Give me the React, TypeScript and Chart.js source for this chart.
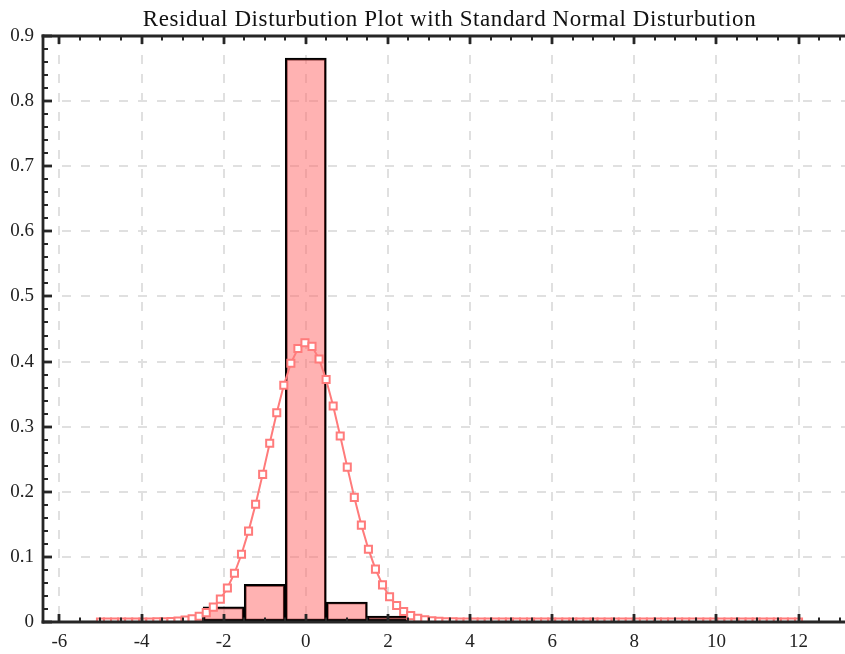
import React, { useEffect, useRef } from "react";
import { Chart, registerables } from "chart.js";

Chart.register(...registerables);

const TITLE = "Residual Disturbution Plot with Standard Normal Disturbution";

// Histogram bins (centres, width 1) and their densities
const binCenters = [-5, -4, -3, -2, -1, 0, 1, 2, 3, 4, 5, 6, 7, 8, 9, 10, 11, 12];
const binDensity = [0.0003, 0.0003, 0.0006, 0.0232, 0.0577, 0.866, 0.0307, 0.009, 0.0012, 0.0006, 0.0004, 0.0003, 0.0002, 0.0002, 0.0002, 0.0002, 0.0002, 0.0003];

// Normal curve sample positions and densities
const curveX = [
  -5.0, -4.8283, -4.6566, -4.4848, -4.3131, -4.1414, -3.9697, -3.798, -3.6263, -3.4545,
  -3.2828, -3.1111, -2.9394, -2.7677, -2.596, -2.4242, -2.2525, -2.0808, -1.9091, -1.7374,
  -1.5657, -1.3939, -1.2222, -1.0505, -0.8788, -0.7071, -0.5354, -0.3636, -0.1919, -0.0202,
  0.1515, 0.3232, 0.4949, 0.6667, 0.8384, 1.0101, 1.1818, 1.3535, 1.5253, 1.697,
  1.8687, 2.0404, 2.2121, 2.3838, 2.5556, 2.7273, 2.899, 3.0707, 3.2424, 3.4141,
  3.5859, 3.7576, 3.9293, 4.101, 4.2727, 4.4444, 4.6162, 4.7879, 4.9596, 5.1313,
  5.303, 5.4747, 5.6465, 5.8182, 5.9899, 6.1616, 6.3333, 6.5051, 6.6768, 6.8485,
  7.0202, 7.1919, 7.3636, 7.5354, 7.7071, 7.8788, 8.0505, 8.2222, 8.3939, 8.5657,
  8.7374, 8.9091, 9.0808, 9.2525, 9.4242, 9.596, 9.7677, 9.9394, 10.1111, 10.2828,
  10.4545, 10.6263, 10.798, 10.9697, 11.1414, 11.3131, 11.4848, 11.6566, 11.8283, 12.0,
];
const curveY = [
  0.0, 0.0, 0.0, 0.0, 0.0, 0.0, 0.00005, 0.0001, 0.0002, 0.0004,
  0.0008, 0.0016, 0.0029, 0.0051, 0.0087, 0.0144, 0.0228, 0.0351, 0.0522, 0.0749,
  0.104, 0.1396, 0.1809, 0.2267, 0.2745, 0.3213, 0.3635, 0.3974, 0.42, 0.4289,
  0.4233, 0.4039, 0.3724, 0.3318, 0.2858, 0.2379, 0.1914, 0.1488, 0.1118, 0.0812,
  0.057, 0.0387, 0.0254, 0.0161, 0.0098, 0.0058, 0.0033, 0.0018, 0.001, 0.0005,
  0.0003, 0.0001, 0.0001, 0.0, 0.0, 0.0, 0.0, 0.0, 0.0, 0.0,
  0.0, 0.0, 0.0, 0.0, 0.0, 0.0, 0.0, 0.0, 0.0, 0.0,
  0.0, 0.0, 0.0, 0.0, 0.0, 0.0, 0.0, 0.0, 0.0, 0.0,
  0.0, 0.0, 0.0, 0.0, 0.0, 0.0, 0.0, 0.0, 0.0, 0.0,
  0.0, 0.0, 0.0, 0.0, 0.0, 0.0, 0.0, 0.0, 0.0, 0.0,
];

const X_MIN = -6.4;
const X_MAX = 13.4;
const Y_MIN = 0;
const Y_MAX = 0.9;

const FONT = "'Liberation Serif', 'Times New Roman', serif";
const AXIS_COLOR = "#262626";

const framePlugin = {
  id: "frame",
  afterDraw(chart: any) {
    const { ctx, chartArea, scales } = chart;
    const { left, right, top, bottom } = chartArea;
    const xs = scales.x;
    const ys = scales.y;
    ctx.save();
    ctx.strokeStyle = AXIS_COLOR;
    const seg = (x1: number, y1: number, x2: number, y2: number, w: number) => {
      ctx.lineWidth = w;
      ctx.beginPath();
      ctx.moveTo(x1, y1);
      ctx.lineTo(x2, y2);
      ctx.stroke();
    };
    // x ticks (minor every 0.5, major every 2)
    for (let i = -13; i <= 27; i++) {
      const v = i * 0.5;
      if (v < X_MIN || v > X_MAX) continue;
      const px = Math.round(xs.getPixelForValue(v));
      const major = i % 4 === 0;
      const len = major ? 8 : 4.5;
      const w = major ? 2.8 : 2;
      seg(px, bottom, px, bottom - len, w);
      seg(px, top, px, top + len, w);
    }
    // y ticks (minor every 0.02, major every 0.1)
    for (let i = 0; i <= 45; i++) {
      const v = i * 0.02;
      const py = Math.round(ys.getPixelForValue(v));
      const major = i % 5 === 0;
      const len = major ? 9 : 5;
      const w = major ? 2.8 : 2;
      seg(left, py, left + len, py, w);
      seg(right, py, right - len, py, w);
    }
    // frame lines
    ctx.lineCap = "square";
    seg(left, top, left, bottom, 2.8);
    seg(left, bottom, right, bottom, 2.8);
    seg(left, top, right, top, 2.8);
    seg(right, top, right, bottom, 2.8);
    ctx.lineCap = "butt";

    // title
    ctx.fillStyle = "#111111";
    ctx.font = `normal 23px ${FONT}`;
    try {
      (ctx as any).letterSpacing = "0.6px";
    } catch (e) {}
    ctx.textAlign = "center";
    ctx.textBaseline = "alphabetic";
    ctx.fillText(TITLE, (left + right) / 2, 25.5);
    try {
      (ctx as any).letterSpacing = "0px";
    } catch (e) {}
    ctx.restore();
  },
};

export default function App() {
  const ref = useRef<HTMLCanvasElement | null>(null);

  useEffect(() => {
    const canvas = ref.current;
    if (!canvas) return;
    const chart = new Chart(canvas, {
      type: "bar",
      data: {
        datasets: [
          {
            type: "line",
            label: "Normal",
            data: curveX.map((x, i) => ({ x, y: curveY[i] })),
            borderColor: "#ff7b7b",
            borderWidth: 2,
            pointStyle: "rect",
            pointRadius: 5,
            pointBorderWidth: 2,
            pointBackgroundColor: "#ffffff",
            pointBorderColor: "#ff7b7b",
            tension: 0,
            order: 0,
          } as any,
          {
            type: "bar",
            label: "Residuals",
            data: binCenters.map((x, i) => ({ x, y: binDensity[i] })),
            backgroundColor: "rgba(255, 102, 102, 0.5)",
            borderColor: "#000000",
            borderWidth: 2,
            borderSkipped: false,
            categoryPercentage: 1,
            barPercentage: 1,
            order: 1,
          } as any,
        ],
      },
      options: {
        animation: false,
        responsive: false,
        devicePixelRatio: 1,
        layout: { padding: { left: 0, right: 14, top: 36, bottom: 0 } },
        plugins: {
          legend: { display: false },
          tooltip: { enabled: false },
          title: { display: false },
        },
        scales: {
          x: {
            type: "linear",
            min: X_MIN,
            max: X_MAX,
            offset: false,
            grid: {
              offset: false,
              drawTicks: false,
              color: "#e0e0e0",
              lineWidth: 2,
            },
            border: { display: false, dash: [9, 10] },
            ticks: {
              stepSize: 2,
              includeBounds: false,
              autoSkip: false,
              maxRotation: 0,
              padding: 9,
              color: "#222222",
              font: { family: FONT, size: 19 },
              callback: (v: any) => String(v),
            },
            afterFit: (s: any) => {
              s.height = 32;
            },
          },
          y: {
            type: "linear",
            min: Y_MIN,
            max: Y_MAX,
            grid: {
              drawTicks: false,
              color: "#e0e0e0",
              lineWidth: 2,
            },
            border: { display: false, dash: [9, 10] },
            ticks: {
              stepSize: 0.1,
              includeBounds: false,
              autoSkip: false,
              padding: 9,
              color: "#222222",
              font: { family: FONT, size: 19 },
              callback: (v: any) => (Math.abs(v) < 1e-9 ? "0" : Number(v).toFixed(1)),
            },
            afterFit: (s: any) => {
              s.width = 43;
            },
          },
        },
      },
      plugins: [framePlugin],
    });
    return () => chart.destroy();
  }, []);

  return (
    <div
      style={{
        position: "absolute",
        left: 0,
        top: 0,
        width: 845,
        height: 654,
        overflow: "hidden",
        background: "#ffffff",
      }}
    >
      <canvas ref={ref} width={870} height={654} style={{ display: "block" }} />
    </div>
  );
}
